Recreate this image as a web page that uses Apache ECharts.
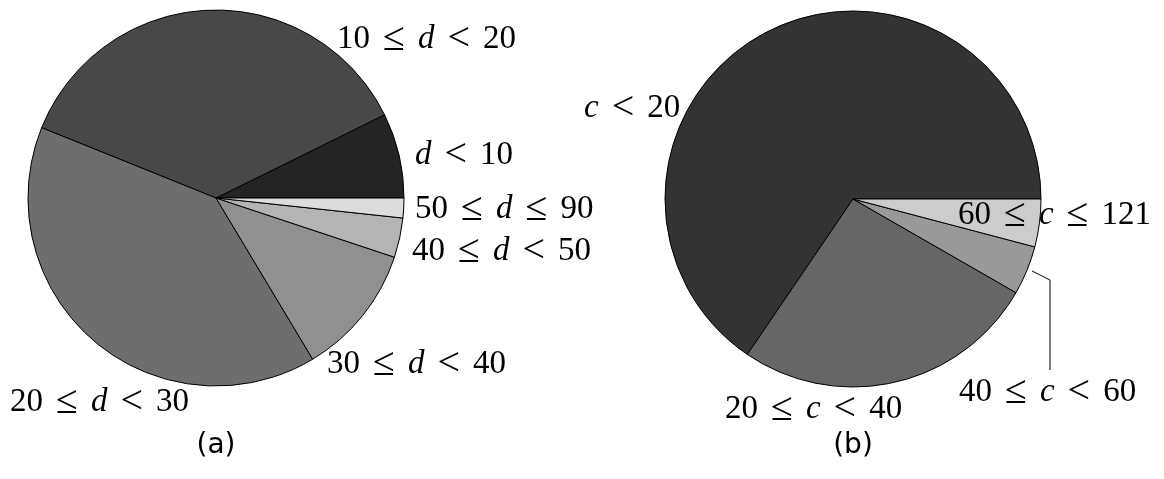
<!DOCTYPE html>
<html>
<head>
<meta charset="utf-8">
<script src="https://cdn.jsdelivr.net/npm/echarts@6/dist/echarts.min.js"></script>
<style>
  html, body { margin: 0; padding: 0; background: #fff; }
  #chart { width: 1164px; height: 479px; }
</style>
</head>
<body>
<div id="chart"></div>
<script>
// (a) distance classes, counter-clockwise from 3 o'clock
const catA = ["d < 10", "10 ≤ d < 20", "20 ≤ d < 30", "30 ≤ d < 40", "40 ≤ d < 50", "50 ≤ d ≤ 90"];
const valA = [7.3, 36.6, 39.7, 11.3, 3.4, 1.7];
const colA = ["#242424", "#484848", "#6e6e6e", "#909090", "#b4b4b4", "#dcdcdc"];

// (b) count classes
const catB = ["c < 20", "20 ≤ c < 40", "40 ≤ c < 60", "60 ≤ c ≤ 121"];
const valB = [65.5, 26.2, 4.2, 4.1];
const colB = ["#333333", "#666666", "#999999", "#cccccc"];

// label anchors (left, middle)
const posA = [[415, 155], [337, 39], [10, 402], [327, 364], [412, 251], [415, 209]];
const posB = [[584, 108], [725, 409], [959, 392], [958, 215]];

var myChart = echarts.init(document.getElementById("chart"));

function mathLabel(p) {
  return p.name.split(" ").map(function (t) {
    if (/^[0-9]+$/.test(t)) return "{n|" + t + "}";
    if (/^[a-z]$/.test(t)) return "{v|" + t + "}";
    return "{r|" + t + "}";
  }).join("");
}

var rich = {
  n: { fontFamily: "Liberation Serif", fontSize: 33, lineHeight: 40, color: "#000" },
  v: { fontFamily: "Liberation Serif", fontStyle: "italic", fontSize: 33, lineHeight: 40, color: "#000" },
  r: { fontFamily: "Liberation Serif", fontSize: 40, lineHeight: 40, color: "#000", padding: [0, 13] },
};

function makePie(cats, vals, cols, pos, center, leader) {
  return {
    type: "pie",
    center: center,
    radius: 188,
    startAngle: 0,
    clockwise: false,
    silent: true,
    animation: false,
    itemStyle: { borderColor: "#000", borderWidth: 1 },
    label: { show: true, position: "outside", overflow: "none", formatter: mathLabel, rich: rich },
    labelLine: { show: false, lineStyle: { color: "#000", width: 1 } },
    emphasis: { disabled: true },
    data: cats.map(function (c, i) {
      var d = { name: c, value: vals[i], itemStyle: { color: cols[i] } };
      if (leader && leader[i]) d.labelLine = { show: true, smooth: false };
      return d;
    }),
    labelLayout: function (params) {
      var p = pos[params.dataIndex];
      var res = { x: p[0], y: p[1], align: "left", verticalAlign: "middle" };
      if (leader && leader[params.dataIndex]) res.labelLinePoints = leader[params.dataIndex];
      return res;
    },
  };
}

myChart.setOption({
  backgroundColor: "#fff",
  series: [
    makePie(catA, valA, colA, posA, [216, 198], null),
    makePie(catB, valB, colB, posB, [853, 199], { 2: [[1032, 271], [1050, 280], [1050, 370]] }),
  ],
  graphic: [
    { type: "text", x: 216, y: 446, style: { text: "(a)", align: "center", verticalAlign: "middle", font: '28px "DejaVu Sans"', fill: "#000" } },
    { type: "text", x: 853, y: 446, style: { text: "(b)", align: "center", verticalAlign: "middle", font: '28px "DejaVu Sans"', fill: "#000" } },
  ],
});
</script>
</body>
</html>
